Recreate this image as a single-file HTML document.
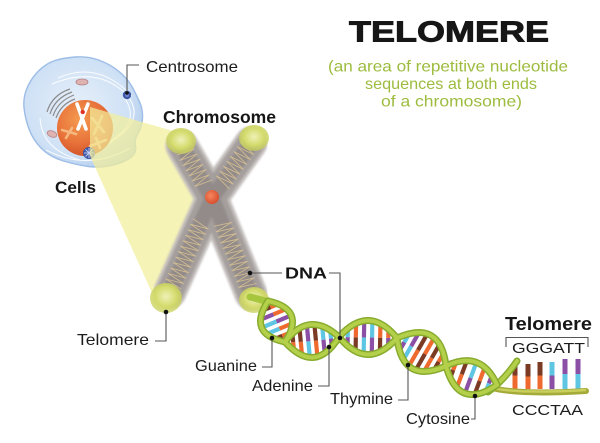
<!DOCTYPE html>
<html><head><meta charset="utf-8">
<style>
html,body{margin:0;padding:0;background:#fff;width:600px;height:443px;overflow:hidden}
svg{display:block}
text{font-family:"Liberation Sans",Arial,sans-serif}
</style></head>
<body>
<svg id="s" width="600" height="443" viewBox="0 0 600 443" xmlns="http://www.w3.org/2000/svg">
<defs>
 <radialGradient id="cellg" cx="0.45" cy="0.45" r="0.62">
   <stop offset="0" stop-color="#e6effa"/>
   <stop offset="0.7" stop-color="#cfe1f5"/>
   <stop offset="1" stop-color="#afcbed"/>
 </radialGradient>
 <radialGradient id="nucg" cx="0.4" cy="0.35" r="0.7">
   <stop offset="0" stop-color="#f49b50"/>
   <stop offset="0.6" stop-color="#e8723a"/>
   <stop offset="1" stop-color="#cf4f26"/>
 </radialGradient>
 <radialGradient id="capg" cx="0.5" cy="0.45" r="0.55">
   <stop offset="0" stop-color="#eef1b8"/>
   <stop offset="0.6" stop-color="#d4db6c"/>
   <stop offset="1" stop-color="#c6cf58" stop-opacity="0.7"/>
 </radialGradient>
 <radialGradient id="cmg" cx="0.4" cy="0.4" r="0.6">
   <stop offset="0" stop-color="#f5875e"/>
   <stop offset="1" stop-color="#d9502f"/>
 </radialGradient>
 <filter id="blur1" x="-20%" y="-20%" width="140%" height="140%"><feGaussianBlur stdDeviation="1"/></filter>
</defs>

<!-- Cell -->
<path d="M55,60.5 Q63,58 75,57 Q87,56 98.5,60 Q110,64 119,71.5 Q128,79 132.5,87.5 Q137,96 140,103 Q143,110 142.5,118.5 Q142,127 138,133.5 Q134,140 135.5,146.5 Q137,153 130,158 Q123,163 111.5,165.5 Q100,168 88.5,166.5 Q77,165 63.5,161 Q50,157 41.5,148.5 Q33,140 29,129 Q25,118 24,107.5 Q23,97 27.5,87 Q32,77 39.5,70 Q47,63 55,60.5 Z" fill="url(#cellg)" stroke="#9dbde6" stroke-width="1.4"/>
<g fill="none" stroke="#ffffff" stroke-width="1.1" opacity="0.85">
 <path d="M58,78 Q98,60 132,96"/>
 <path d="M52,84 Q95,66 124,92"/>
 <path d="M46,150 Q88,172 130,148"/>
 <path d="M127,95 Q152,126 89,153"/>
 <path d="M124,97 Q146,128 92,150"/>
 <path d="M40,118 Q42,150 80,160"/>
</g>
<g fill="none" stroke="#8c8c8c" stroke-width="1.2">
 <path d="M47,112 Q52,95 70,89"/>
 <path d="M50,114 Q55,98 72,92"/>
 <path d="M53,116 Q58,101 74,95"/>
 <path d="M56,118 Q61,104 75,99"/>
</g>
<ellipse cx="82" cy="82" rx="6" ry="3" fill="#e0b3b3" stroke="#b58384" stroke-width="0.8"/>
<ellipse cx="52" cy="134" rx="5" ry="3" fill="#e0b3b3" stroke="#b58384" stroke-width="0.8" transform="rotate(20 52 134)"/>

<!-- Nucleus -->
<circle cx="85" cy="128" r="28" fill="url(#nucg)"/>
<g fill="none" stroke="#f7be86" stroke-width="2.6" stroke-linecap="round" opacity="0.9">
 <path d="M92,118 L104,132"/><path d="M102,116 L94,134"/>
 <path d="M62,130 L76,134"/><path d="M66,138 L72,128"/>
 <path d="M90,146 L106,140"/><path d="M96,138 L100,148"/>
</g>
<g stroke="#ffffff" stroke-width="3.6" stroke-linecap="round">
 <path d="M77,104 L86,129"/><path d="M88,104 L78,129"/>
</g>
<circle cx="82.7" cy="112" r="2.2" fill="#e0302a"/>

<!-- Centrosomes -->
<circle cx="127" cy="95" r="4.2" fill="#3d55a5"/>
<circle cx="127" cy="95" r="2" fill="#6f86cf"/>
<circle cx="89" cy="153" r="6" fill="#3d55a5"/>
<g stroke="#c9d3f2" stroke-width="0.9">
 <path d="M84,153 H94"/><path d="M89,148 V158"/><path d="M85.5,149.5 L92.5,156.5"/><path d="M92.5,149.5 L85.5,156.5"/>
</g>

<!-- Cone -->
<polygon points="90,107 180,133 200,196 171,300 158,306 90,156" fill="#f3ef9b" opacity="0.72"/>

<!-- Chromosome -->
<g fill="none" stroke-linecap="round" filter="url(#blur1)">
 <g stroke="#c4bfbd" stroke-width="33">
  <line x1="212" y1="198" x2="182" y2="146"/><line x1="212" y1="198" x2="251" y2="143"/>
  <line x1="212" y1="198" x2="170" y2="292"/><line x1="212" y1="198" x2="251" y2="294"/>
 </g>
 <g stroke="#a49e9c" stroke-width="27">
  <line x1="212" y1="198" x2="182" y2="146"/><line x1="212" y1="198" x2="251" y2="143"/>
  <line x1="212" y1="198" x2="170" y2="292"/><line x1="212" y1="198" x2="251" y2="294"/>
 </g>
 <g stroke="#8e8785" stroke-width="15" opacity="0.8">
  <line x1="212" y1="198" x2="182" y2="146"/><line x1="212" y1="198" x2="251" y2="143"/>
  <line x1="212" y1="198" x2="170" y2="292"/><line x1="212" y1="198" x2="251" y2="294"/>
 </g>
</g>
<g id="zig"></g>
<ellipse cx="181" cy="141" rx="15" ry="13" fill="url(#capg)"/>
<ellipse cx="254" cy="138" rx="15" ry="13" fill="url(#capg)"/>
<ellipse cx="166" cy="298" rx="16" ry="15" fill="url(#capg)"/>
<ellipse cx="254" cy="300" rx="15" ry="13" fill="url(#capg)"/>
<circle cx="212" cy="197" r="7" fill="url(#cmg)"/>

<!-- DNA -->
<g id="bars">
 <line x1="515" y1="362" x2="515" y2="375.5" stroke="#7b3a24" stroke-width="5"/><line x1="515" y1="375.5" x2="515" y2="389" stroke="#ef6a2f" stroke-width="5"/>
 <line x1="528" y1="364" x2="528" y2="376.5" stroke="#7b3a24" stroke-width="5"/><line x1="528" y1="376.5" x2="528" y2="389" stroke="#ef6a2f" stroke-width="5"/>
 <line x1="540" y1="362" x2="540" y2="375.5" stroke="#7b3a24" stroke-width="5"/><line x1="540" y1="375.5" x2="540" y2="389" stroke="#ef6a2f" stroke-width="5"/>
 <line x1="552" y1="362" x2="552" y2="375.5" stroke="#5ec6e3" stroke-width="5"/><line x1="552" y1="375.5" x2="552" y2="389" stroke="#8b4fa5" stroke-width="5"/>
 <line x1="565" y1="359" x2="565" y2="374" stroke="#8b4fa5" stroke-width="5"/><line x1="565" y1="374" x2="565" y2="389" stroke="#5ec6e3" stroke-width="5"/>
 <line x1="578" y1="359" x2="578" y2="374" stroke="#8b4fa5" stroke-width="5"/><line x1="578" y1="374" x2="578" y2="389" stroke="#5ec6e3" stroke-width="5"/>
</g>
<g id="strands">
 <path d="M250,297 L269,302" stroke="#a6c63e" stroke-width="7" stroke-linecap="round"/>
 <path d="M492,388 Q520,395 586,391" fill="none" stroke="#a4ab38" stroke-width="6" stroke-linecap="round"/>
 <path d="M492,388 Q520,394 586,390" fill="none" stroke="#c9cf5c" stroke-width="2.4"/>
 <path d="M488,392 Q504,380 517,361" fill="none" stroke="#87ab2d" stroke-width="7" stroke-linecap="round"/>
 <path d="M488,392 Q504,380 517,361" fill="none" stroke="#b4d04a" stroke-width="4" stroke-linecap="round"/>
</g>

<!-- Connectors -->
<g fill="none" stroke="#555" stroke-width="1.1">
 <path d="M127,94 V65 H139"/>
 <path d="M166,312 V341 H155"/>
 <path d="M250,273 H282"/>
 <path d="M329,273 H340 V338"/>
 <path d="M272,338 V367 H262"/>
 <path d="M329,347 V386 H318"/>
 <path d="M408,365 V400 H398"/>
 <path d="M475,396 V419 H471"/>
 <path d="M506,347 V337.5 H588 V347"/>
</g>
<g fill="#111">
 <circle cx="127" cy="93" r="1.8"/>
 <circle cx="166" cy="312" r="2.3"/>
 <circle cx="250" cy="273" r="2.3"/>
 <circle cx="340" cy="338" r="2.3"/>
 <circle cx="272" cy="338" r="2.3"/>
 <circle cx="329" cy="347" r="2.3"/>
 <circle cx="408" cy="365" r="2.3"/>
 <circle cx="475" cy="396" r="2.3"/>
</g>

<!-- Text -->
<text x="349" y="41.5" font-size="29" font-weight="bold" fill="#161616" stroke="#161616" stroke-width="0.9" textLength="200" lengthAdjust="spacingAndGlyphs">TELOMERE</text>
<g fill="#9dbc3f" font-size="16">
 <text x="328" y="71.5" textLength="240" lengthAdjust="spacingAndGlyphs">(an area of repetitive nucleotide</text>
 <text x="365" y="89" textLength="172" lengthAdjust="spacingAndGlyphs">sequences at both ends</text>
 <text x="381" y="106.5" textLength="141" lengthAdjust="spacingAndGlyphs">of a chromosome)</text>
</g>
<g fill="#1c1c1c" font-size="16">
 <text x="146" y="72" textLength="92" lengthAdjust="spacingAndGlyphs">Centrosome</text>
 <text x="77" y="345" textLength="72" lengthAdjust="spacingAndGlyphs">Telomere</text>
 <text x="195" y="371" textLength="62" lengthAdjust="spacingAndGlyphs">Guanine</text>
 <text x="252" y="391" textLength="61" lengthAdjust="spacingAndGlyphs">Adenine</text>
 <text x="330" y="404" textLength="63" lengthAdjust="spacingAndGlyphs">Thymine</text>
 <text x="406" y="424" textLength="64" lengthAdjust="spacingAndGlyphs">Cytosine</text>
</g>
<g fill="#161616" font-weight="bold">
 <text x="163" y="123" font-size="17.5" textLength="113" lengthAdjust="spacingAndGlyphs">Chromosome</text>
 <text x="55" y="193" font-size="17" textLength="41" lengthAdjust="spacingAndGlyphs">Cells</text>
 <text x="285" y="278.3" font-size="16" textLength="42" lengthAdjust="spacingAndGlyphs">DNA</text>
 <text x="505" y="330" font-size="18" textLength="87" lengthAdjust="spacingAndGlyphs">Telomere</text>
</g>
<g fill="#1c1c1c" font-size="15">
 <text x="512" y="353" textLength="73" lengthAdjust="spacingAndGlyphs">GGGATT</text>
 <text x="512" y="415" textLength="71" lengthAdjust="spacingAndGlyphs">CCCTAA</text>
</g>
</svg>
<script>
(function(){
var NS="http://www.w3.org/2000/svg";
function mk(p,tag,a){var e=document.createElementNS(NS,tag);for(var k in a)e.setAttribute(k,a[k]);p.appendChild(e);return e;}
var gz=document.getElementById('zig');
var C=[212,198];
var arms=[[182,146],[251,143],[170,292],[251,294]];
arms.forEach(function(E){
  var dx=E[0]-C[0],dy=E[1]-C[1],L=Math.sqrt(dx*dx+dy*dy),ux=dx/L,uy=dy/L,nx=-uy,ny=ux;
  var pts=[],s=0.26*L,side=1;
  while(s<L*0.95){var a=9*side;pts.push((C[0]+ux*s+nx*a).toFixed(1)+","+(C[1]+uy*s+ny*a).toFixed(1));s+=3;side=-side;}
  mk(gz,'polyline',{points:pts.join(' '),fill:'none',stroke:'#d8c293','stroke-width':'0.9','stroke-linejoin':'round',opacity:'0.85'});
});
var gb=document.getElementById('bars'),gs=document.getElementById('strands');
var O='#ef6a2f',B='#7b3a24',Cy='#5ec6e3',P='#8b4fa5';
var bub=[
 [[268,301],[285,342],16,16,[[B,O],[P,O],[Cy,P],[Cy,O],[B,O]]],
 [[285,342],[339,337],18,15,[[O,B],[O,B],[Cy,P],[O,B],[P,Cy],[P,Cy]]],
 [[339,337],[397,338],17,17,[[P,Cy],[B,O],[Cy,P],[P,Cy],[B,O],[P,O]]],
 [[397,338],[446,366],19,19,[[P,Cy],[Cy,P],[O,B],[B,O],[O,B],[B,O]]],
 [[446,366],[497,385],19,14,[[B,O],[O,B],[P,Cy],[B,O],[Cy,P]]]
];
var strandPaths=[];
bub.forEach(function(b){
 var A=b[0],Bp=b[1],h1=b[2],h2=b[3],cols=b[4];
 var dx=Bp[0]-A[0],dy=Bp[1]-A[1],L=Math.sqrt(dx*dx+dy*dy),nx=-dy/L,ny=dx/L;
 var mx=(A[0]+Bp[0])/2,my=(A[1]+Bp[1])/2;
 var P1=[mx+nx*2*h1,my+ny*2*h1],P2=[mx-nx*2*h2,my-ny*2*h2];
 function q(Pc,t){var u=1-t;return [u*u*A[0]+2*t*u*Pc[0]+t*t*Bp[0],u*u*A[1]+2*t*u*Pc[1]+t*t*Bp[1]];}
 var n=cols.length;
 for(var i=0;i<n;i++){
  var t=0.15+i*0.7/(n-1);var s1=q(P1,t),s2=q(P2,t);var m=[(s1[0]+s2[0])/2,(s1[1]+s2[1])/2];
  mk(gb,'line',{x1:s1[0],y1:s1[1],x2:m[0],y2:m[1],stroke:cols[i][0],'stroke-width':4.2});
  mk(gb,'line',{x1:m[0],y1:m[1],x2:s2[0],y2:s2[1],stroke:cols[i][1],'stroke-width':4.2});
 }
 [P1,P2].forEach(function(Pc){strandPaths.push('M'+A[0]+','+A[1]+' Q'+Pc[0].toFixed(1)+','+Pc[1].toFixed(1)+' '+Bp[0]+','+Bp[1]);});
});
strandPaths.forEach(function(d){mk(gs,'path',{d:d,fill:'none',stroke:'#87ab2d','stroke-width':7,'stroke-linecap':'round'});});
strandPaths.forEach(function(d){mk(gs,'path',{d:d,fill:'none',stroke:'#b4d04a','stroke-width':4,'stroke-linecap':'round'});});
})();
</script>
</body></html>
